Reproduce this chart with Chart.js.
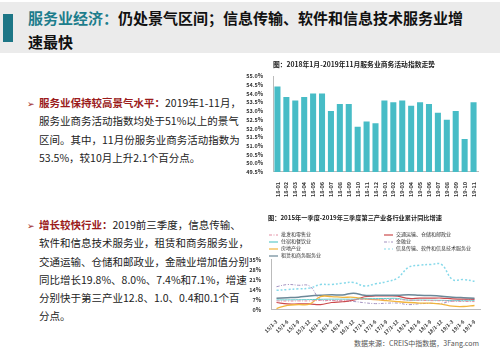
<!DOCTYPE html>
<html>
<head>
<meta charset="utf-8">
<script src="https://cdn.jsdelivr.net/npm/chart.js@4"></script>
<style>
  body { margin: 0; width: 500px; height: 353px; background: #fff; position: relative; overflow: hidden;
         font-family: "Noto Sans CJK SC", "Noto Sans", sans-serif; }
  .band { position: absolute; left: 0; top: 2px; width: 500px; height: 51px; background: #ebebeb; }
  .mark { position: absolute; left: 3px; top: 14px; width: 10px; height: 28px; background: #1d7686; }
  .title { position: absolute; left: 28px; top: 6px; font-size: 15px; font-weight: bold; line-height: 24px; color: #111; white-space: nowrap; }
  .title span { color: #1d7d8c; }
  .txt { position: absolute; left: 39px; font-size: 10.5px; line-height: 18.3px; color: #222; white-space: nowrap; }
  .txt b { color: #9b1b1b; }
  .bul { position: absolute; left: 27px; font-size: 9px; color: #9b1b1b; }
  #c1 { position: absolute; left: 230px; top: 57px; }
  #c2 { position: absolute; left: 230px; top: 209px; }
  .lg { position: absolute; font-size: 5px; color: #333; white-space: nowrap; line-height: 7px; }
  .lg svg { vertical-align: middle; margin-right: 3px; }
  .src { position: absolute; left: 354px; top: 338px; font-size: 7px; color: #555; white-space: nowrap; }
</style>
</head>
<body>
<div class="band"></div>
<div class="mark"></div>
<div class="title"><span>服务业经济：</span>仍处景气区间；信息传输、软件和信息技术服务业增<br>速最快</div>

<div class="bul" style="top:97px">➢</div>
<div class="txt" style="top:94px"><b>服务业保持较高景气水平：</b>2019年1-11月，<br>服务业商务活动指数均处于51%以上的景气<br>区间。其中，11月份服务业商务活动指数为<br>53.5%，较10月上升2.1个百分点。</div>

<div class="bul" style="top:219px">➢</div>
<div class="txt" style="top:216px"><b>增长较快行业：</b>2019前三季度，信息传输、<br>软件和信息技术服务业，租赁和商务服务业，<br>交通运输、仓储和邮政业，金融业增加值分别<br>同比增长19.8%、8.0%、7.4%和7.1%，增速<br>分别快于第三产业12.8、1.0、0.4和0.1个百<br>分点。</div>

<canvas id="c1" width="270" height="142"></canvas>
<canvas id="c2" width="270" height="128"></canvas>
<div id="legend"></div>
<div class="src">数据来源：CREIS中指数据，3Fang.com</div>

<script>
// 服务业商务活动指数
var barLabels = ['18-01','18-02','18-03','18-04','18-05','18-06','18-07','18-08','18-09','18-10','18-11','18-12',
                 '19-01','19-02','19-03','19-04','19-05','19-06','19-07','19-08','19-09','19-10','19-11'];
var barValues = [54.4, 53.8, 53.6, 53.8, 54.0, 54.0, 53.0, 53.4, 53.4, 52.1, 52.4, 52.3,
                 53.6, 53.5, 53.6, 53.3, 53.5, 53.4, 52.9, 52.5, 53.0, 51.4, 53.5];
var barMin = 49.5, barMax = 55.0, barStep = 0.5;

// 第三产业各行业累计同比增速 (%)
var lineLabels = ['15/1-3','15/1-6','15/1-9','15/1-12','16/1-3','16/1-6','16/1-9','16/1-12',
                  '17/1-3','17/1-6','17/1-9','17/1-12','18/1-3','18/1-6','18/1-9','18/1-12',
                  '19/1-3','19/1-6','19/1-9'];
var wholesale = [6.1, 6.0, 6.1, 6.1, 6.4, 6.4, 6.5, 6.8, 7.3, 7.0, 7.0, 7.1, 6.6, 6.5, 6.3, 6.2, 5.9, 5.7, 5.6];
var hotel     = [6.8, 6.8, 6.9, 7.0, 7.2, 7.3, 7.3, 7.3, 7.6, 7.7, 7.8, 7.8, 6.6, 6.7, 6.6, 6.5, 6.3, 6.1, 6.3];
var realty    = [0.8, 3.0, 3.5, 3.8, 9.1, 9.1, 8.6, 8.6, 7.5, 7.0, 6.3, 5.6, 5.0, 4.6, 4.5, 3.8, 2.4, 2.2, 2.9];
var leasing   = [8.0, 8.3, 8.7, 9.5, 10.0, 10.3, 10.2, 11.5, 10.0, 10.0, 10.0, 10.0, 10.3, 10.0, 9.8, 9.4, 8.7, 8.3, 8.0];
var transport = [5.0, 4.0, 4.0, 4.0, 3.5, 5.0, 5.5, 6.6, 9.0, 9.5, 9.5, 9.4, 7.8, 8.0, 8.0, 8.1, 7.5, 7.3, 7.4];
var finance   = [16.0, 17.5, 17.0, 16.5, 6.9, 6.5, 5.9, 5.7, 4.8, 4.2, 4.5, 4.6, 3.5, 4.1, 4.4, 4.4, 6.0, 6.6, 7.1];
var infotech  = [13.5, 14.0, 14.5, 15.0, 17.5, 17.5, 18.5, 19.0, 16.5, 18.0, 19.5, 22.0, 29.5, 31.0, 31.5, 31.5, 21.0, 21.0, 19.8];
var lineMin = 0, lineMax = 35, lineStep = 7;

var font = "'Noto Sans CJK SC', sans-serif";

new Chart(document.getElementById('c1').getContext('2d'), {
  type: 'bar',
  data: {
    labels: barLabels,
    datasets: [{
      data: barValues,
      backgroundColor: '#47bcc6',
      barPercentage: 0.68,
      categoryPercentage: 1
    }]
  },
  options: {
    responsive: false,
    animation: false,
    layout: { padding: { left: 0, right: 22, top: 0, bottom: 0 } },
    plugins: {
      legend: { display: false },
      tooltip: { enabled: false },
      title: {
        display: true,
        text: '图：2018年1月-2019年11月服务业商务活动指数走势',
        color: '#222',
        font: { family: font, size: 6.8, weight: 'bold' },
        padding: { top: 3, bottom: 8 }
      }
    },
    scales: {
      x: {
        grid: { display: false },
        border: { color: '#bbb' },
        ticks: { color: '#333', font: { family: font, size: 5.5, weight: 'bold' }, minRotation: 90, maxRotation: 90, autoSkip: false, padding: 2 }
      },
      y: {
        min: barMin, max: barMax,
        afterFit: function (s) { s.width = 43; },
        grid: { display: false },
        border: { color: '#bbb' },
        ticks: {
          stepSize: barStep, autoSkip: false, color: '#333', padding: 2,
          font: { family: font, size: 5.5, weight: 'bold' },
          callback: function (v) { return v.toFixed(1) + '%'; }
        }
      }
    }
  }
});

var series = [
  { name: '批发和零售业', data: wholesale, color: '#e38ea4', dash: [3, 1.5, 1, 1.5], width: 1 },
  { name: '住宿和餐饮业', data: hotel, color: '#5fcaca', dash: [], width: 1 },
  { name: '房地产业', data: realty, color: '#f2b53d', dash: [], width: 1.3 },
  { name: '租赁和商务服务业', data: leasing, color: '#6b8797', dash: [], width: 1.5 },
  { name: '交通运输、仓储和邮政业', data: transport, color: '#cc4a4c', dash: [], width: 1.2 },
  { name: '金融业', data: finance, color: '#a392c0', dash: [3, 1.5, 1, 1.5], width: 1 },
  { name: '信息传输、软件和信息技术服务业', data: infotech, color: '#86d9ea', dash: [2, 2], width: 1.5 }
];

new Chart(document.getElementById('c2').getContext('2d'), {
  type: 'line',
  data: {
    labels: lineLabels,
    datasets: series.map(function (s) {
      return {
        label: s.name, data: s.data, borderColor: s.color, borderDash: s.dash,
        borderWidth: s.width, pointRadius: 0, tension: 0.4, fill: false
      };
    })
  },
  options: {
    responsive: false,
    animation: false,
    layout: { padding: { left: 0, right: 20, top: 0, bottom: 0 } },
    plugins: {
      legend: { display: false },
      tooltip: { enabled: false },
      title: {
        display: true,
        text: '图：2015年一季度-2019年三季度第三产业各行业累计同比增速',
        color: '#222',
        font: { family: font, size: 6.2, weight: 'bold' },
        padding: { top: 5, bottom: 38 }
      }
    },
    scales: {
      x: {
        offset: true,
        grid: { display: false },
        border: { color: '#bbb' },
        ticks: { color: '#333', font: { family: font, size: 5, weight: 'bold' }, minRotation: 45, maxRotation: 45, autoSkip: false, padding: 1 }
      },
      y: {
        min: lineMin, max: lineMax,
        afterFit: function (s) { s.width = 41; },
        grid: { display: false },
        border: { color: '#bbb' },
        ticks: { stepSize: lineStep, autoSkip: false, color: '#333', padding: 2, font: { family: font, size: 5.5, weight: 'bold' },
                 callback: function (v) { return v + '%'; } }
      }
    }
  }
});

// legend in two columns
var lg = document.getElementById('legend');
var pos = [[269, 230], [269, 237], [269, 244], [269, 251], [384, 230], [384, 237], [384, 244]];
series.forEach(function (s, i) {
  var d = document.createElement('div');
  d.className = 'lg';
  d.style.left = pos[i][0] + 'px';
  d.style.top = pos[i][1] + 'px';
  var da = s.dash.length ? s.dash.join(' ') : 'none';
  d.innerHTML = '<svg width="9" height="4"><line x1="0" y1="2" x2="9" y2="2" stroke="' + s.color +
    '" stroke-width="1.2" stroke-dasharray="' + da + '"/></svg>' + s.name;
  lg.appendChild(d);
});
</script>
</body>
</html>
